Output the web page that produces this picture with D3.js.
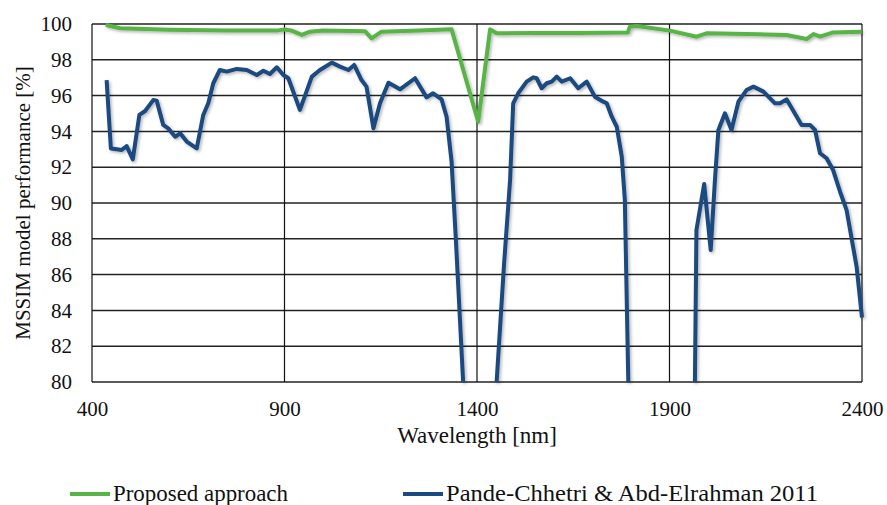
<!DOCTYPE html>
<html>
<head>
<meta charset="utf-8">
<script src="https://cdn.jsdelivr.net/npm/d3@7"></script>
<style>
  body { margin: 0; background: #fff; }
  svg { display: block; font-family: "Liberation Serif", "Times New Roman", serif; }
</style>
</head>
<body>
<svg width="887" height="505"></svg>
<script>
// tick labels
var xTicks = [400, 900, 1400, 1900, 2400];
var yTicks = [80, 82, 84, 86, 88, 90, 92, 94, 96, 98, 100];

// Proposed approach (green)
var proposedWl  = [436, 473, 600, 750, 880, 900, 920, 945, 966, 1000, 1109, 1126, 1152, 1250, 1334, 1403, 1434, 1451, 1550, 1668, 1792, 1797, 1815, 1901, 1970, 1996, 2100, 2204, 2256, 2274, 2291, 2325, 2399];
var proposedVal = [99.94, 99.76, 99.68, 99.64, 99.63, 99.7, 99.62, 99.39, 99.57, 99.64, 99.6, 99.2, 99.57, 99.64, 99.7, 94.54, 99.7, 99.48, 99.5, 99.5, 99.53, 99.85, 99.89, 99.63, 99.29, 99.48, 99.44, 99.39, 99.16, 99.44, 99.29, 99.53, 99.57];

// Pande-Chhetri & Abd-Elrahman 2011 (blue); null = below the axis
var pandeWl  = [438, 449, 464, 477, 490, 506, 523, 538, 559, 568, 585, 598, 616, 629, 646, 672, 689, 702, 715, 732, 750, 776, 802, 828, 845, 862, 880, 897, 910, 940, 971, 992, 1023, 1044, 1066, 1081, 1100, 1113, 1131, 1148, 1170, 1200, 1239, 1269, 1286, 1308, 1321, 1334, 1345, 1364,
  1400,
  1451, 1470, 1486, 1494, 1507, 1529, 1546, 1555, 1568, 1581, 1594, 1607, 1620, 1642, 1663, 1685, 1706, 1728, 1737, 1750, 1763, 1776, 1784, 1793,
  1880,
  1966, 1970, 1990, 2007, 2018, 2027, 2044, 2061, 2079, 2100, 2118, 2144, 2174, 2187, 2204, 2243, 2265, 2278, 2291, 2308, 2325, 2343, 2360, 2386, 2400];
var pandeVal = [96.87, 93.05, 93.0, 92.96, 93.18, 92.44, 94.92, 95.14, 95.75, 95.72, 94.36, 94.17, 93.7, 93.89, 93.43, 93.05, 94.92, 95.57, 96.69, 97.43, 97.34, 97.49, 97.43, 97.15, 97.39, 97.21, 97.58, 97.15, 96.97, 95.2, 97.06, 97.43, 97.84, 97.62, 97.43, 97.71, 96.87, 96.5, 94.17, 95.57, 96.72, 96.35, 96.97, 95.9, 96.13, 95.79, 94.82, 92.3, 88.0, 80.0,
  null,
  80.0, 86.5, 91.3, 95.57, 96.13, 96.78, 97.02, 96.97, 96.41, 96.69, 96.78, 97.06, 96.78, 96.97, 96.41, 96.78, 95.94, 95.66, 95.57, 94.82, 94.26, 92.59, 90.17, 80.0,
  null,
  80.0, 88.49, 91.06, 87.37, 91.28, 94.08, 95.01, 94.08, 95.66, 96.31, 96.5, 96.22, 95.57, 95.57, 95.79, 94.36, 94.36, 94.08, 92.78, 92.5, 91.84, 90.63, 89.6, 86.44, 83.6];

var svg = d3.select('svg');
var plotL = 92, plotR = 862, plotT = 24, plotB = 382;

var x = d3.scaleLinear().domain([400, 2400]).range([plotL, plotR]);
var y = d3.scaleLinear().domain([80, 100]).range([plotB, plotT]);

// soft shadow like the original
var defs = svg.append('defs');
var f = defs.append('filter').attr('id', 'shadow').attr('x', '-5%').attr('y', '-5%').attr('width', '110%').attr('height', '110%');
f.append('feDropShadow').attr('dx', 1.5).attr('dy', 1.5).attr('stdDeviation', 1.5).attr('flood-color', '#000').attr('flood-opacity', 0.3);

// horizontal grid
svg.append('g').selectAll('line').data(yTicks).enter().append('line')
  .attr('x1', plotL).attr('x2', plotR)
  .attr('y1', d => y(d)).attr('y2', d => y(d))
  .attr('stroke', '#222').attr('stroke-width', 1.5);

// vertical grid
svg.append('g').selectAll('line').data(xTicks).enter().append('line')
  .attr('x1', d => x(d)).attr('x2', d => x(d))
  .attr('y1', plotT).attr('y2', plotB)
  .attr('stroke', '#111').attr('stroke-width', 1.2);

// y axis
var yAxis = d3.axisLeft(y).tickValues(yTicks).tickSize(0).tickPadding(20).tickFormat(d3.format('d'));
var gy = svg.append('g').attr('transform', 'translate(' + plotL + ',0)').call(yAxis);
gy.select('.domain').remove();
gy.attr('font-family', null);
gy.selectAll('text').attr('font-size', 21).attr('fill', '#111');

// x axis
var xAxis = d3.axisBottom(x).tickValues(xTicks).tickSize(0).tickPadding(19).tickFormat(d3.format('d'));
var gx = svg.append('g').attr('transform', 'translate(0,' + plotB + ')').call(xAxis);
gx.select('.domain').remove();
gx.attr('font-family', null);
gx.selectAll('text').attr('font-size', 21).attr('fill', '#111');

// lines
var line = d3.line()
  .defined(d => d[1] !== null)
  .x(d => x(d[0]))
  .y(d => y(d[1]));

var proposed = proposedWl.map((w, i) => [w, proposedVal[i]]);
var pande = pandeWl.map((w, i) => [w, pandeVal[i]]);

svg.append('path').datum(pande)
  .attr('d', line)
  .attr('fill', 'none')
  .attr('stroke', '#1a4a80')
  .attr('stroke-width', 4)
  .attr('stroke-linejoin', 'round')
  .attr('filter', 'url(#shadow)');

svg.append('path').datum(proposed)
  .attr('d', line)
  .attr('fill', 'none')
  .attr('stroke', '#58b446')
  .attr('stroke-width', 4)
  .attr('stroke-linejoin', 'round')
  .attr('filter', 'url(#shadow)');

// axis titles
svg.append('text')
  .attr('x', (plotL + plotR) / 2).attr('y', 443)
  .attr('text-anchor', 'middle')
  .attr('font-size', 23).attr('fill', '#111')
  .text('Wavelength [nm]');

svg.append('text')
  .attr('transform', 'translate(30,' + (plotT + plotB) / 2 + ') rotate(-90)')
  .attr('text-anchor', 'middle')
  .attr('font-size', 21).attr('fill', '#111')
  .text('MSSIM model performance [%]');

// legend
var legendItems = [
  {label: 'Proposed approach', color: '#58b446', x0: 70, len: 175},
  {label: 'Pande-Chhetri & Abd-Elrahman 2011', color: '#1a4a80', x0: 403, len: 372}
];
var lg = svg.append('g').selectAll('g').data(legendItems).enter().append('g');
lg.append('line')
  .attr('x1', d => d.x0).attr('x2', d => d.x0 + 40)
  .attr('y1', 494).attr('y2', 494)
  .attr('stroke', d => d.color).attr('stroke-width', 4);
lg.append('text')
  .attr('x', d => d.x0 + 43).attr('y', 501)
  .attr('font-size', 23).attr('fill', '#111')
  .attr('textLength', d => d.len)
  .attr('lengthAdjust', 'spacingAndGlyphs')
  .text(d => d.label);
</script>
</body>
</html>
